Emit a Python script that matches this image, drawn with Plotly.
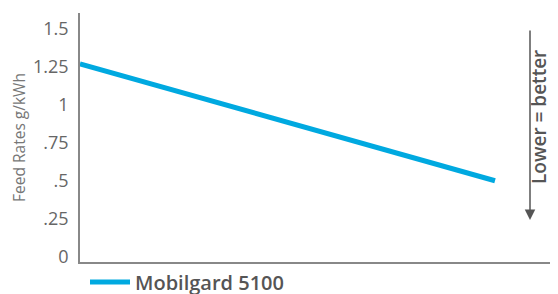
import plotly.graph_objects as go

x_vals = [0, 1]
feed_rates = [1.27, 0.50]
series_name = "Mobilgard 5100"
tick_vals = [0, 0.25, 0.5, 0.75, 1, 1.25, 1.5]
tick_text = ["0", ".25", ".5", ".75", "1", "1.25", "1.5"]

# page body has an 8px default margin; the figure is sized to fit the window
W, H = 550, 286
L, T = 72, 5
plot_bottom_px = 254
paper_h = H - T
dom_lo = (H - plot_bottom_px) / paper_h
plot_w = W - L

fig = go.Figure()
fig.add_trace(go.Scatter(
    x=x_vals, y=feed_rates, mode="lines", name=series_name,
    line=dict(color="#00a9e0", width=5),
))

fig.update_layout(
    width=W, height=H,
    margin=dict(l=L, r=0, t=T, b=0, autoexpand=False),
    paper_bgcolor="white", plot_bgcolor="white",
    font=dict(family="Open Sans", color="#555555", size=15),
    showlegend=True,
    legend=dict(orientation="h", x=5 / plot_w, y=(H - 274) / paper_h, xanchor="left", yanchor="middle",
                font=dict(size=20, color="#555555", family="Open Sans", weight=600),
                itemwidth=40, bgcolor="rgba(0,0,0,0)"),
    xaxis=dict(range=[0, plot_w / 415], showgrid=False, zeroline=False, showticklabels=False,
               showline=True, linecolor="#888888", linewidth=1.5, ticks="", automargin=False),
    yaxis=dict(range=[-0.035, 1.605], domain=[dom_lo, 1], showgrid=False, zeroline=False,
               tickvals=tick_vals, ticktext=tick_text, ticks="", automargin=False,
               ticklabelstandoff=6,
               showline=True, linecolor="#888888", linewidth=1.5,
               title=dict(text="Feed Rates g/kWh", font=dict(size=15.5, color="#777777"), standoff=12),
               tickfont=dict(size=18, color="#666666")),
)

fig.add_annotation(
    x=(522 - L) / plot_w, xref="paper", y=(248.7 - 212) / 151.8, yref="y",
    ax=0, ay=-191, axref="pixel", ayref="pixel",
    showarrow=True, arrowhead=2, arrowsize=1.4, arrowwidth=1.5, arrowcolor="#555555",
    text="",
)
fig.add_annotation(
    x=(546.5 - L) / plot_w, xref="paper", y=(248.7 - 109.5) / 151.8, yref="y",
    text="Lower = better", textangle=-90, showarrow=False,
    font=dict(size=19, color="#555555", family="Open Sans", weight=600),
)

fig.write_html("out.html")
